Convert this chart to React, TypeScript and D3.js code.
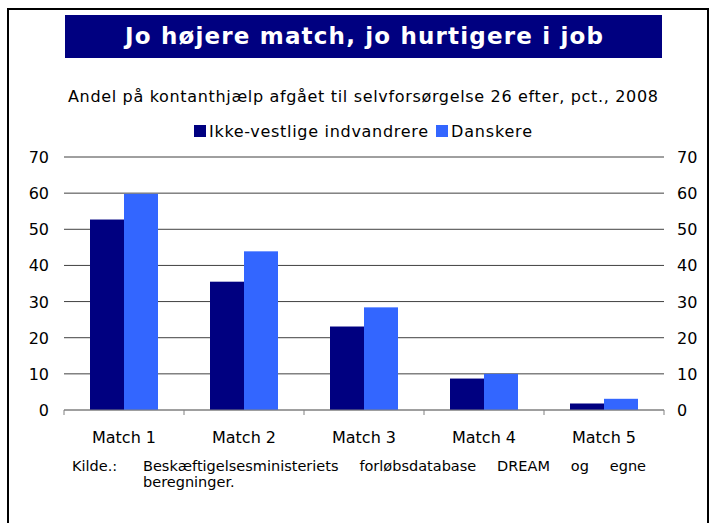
import React, { useLayoutEffect, useRef, useState } from "react";
import * as d3 from "d3";

const categories = ["Match 1", "Match 2", "Match 3", "Match 4", "Match 5"];
const seriesNames = ["Ikke-vestlige indvandrere", "Danskere"];
const ikkeVestlige = [52.7, 35.5, 23.1, 8.7, 1.8];
const danskere = [59.8, 43.9, 28.4, 10.0, 3.1];
const yTicks = [0, 10, 20, 30, 40, 50, 60, 70];
const colors = ["#000080", "#3366FF"];
const sourceLine1 = "Beskæftigelsesministeriets forløbsdatabase DREAM og egne";
const sourceLine2 = "beregninger.";

const W = 714;
const H = 523;
const font = "'DejaVu Sans', Verdana, sans-serif";

function Justified({ text, x0, x1, y, size }: { text: string; x0: number; x1: number; y: number; size: number }) {
  const words = text.split(" ");
  const refs = useRef<(SVGTextElement | null)[]>([]);
  const [xs, setXs] = useState<number[] | null>(null);
  useLayoutEffect(() => {
    const widths = refs.current.map((el) => (el ? el.getComputedTextLength() : 0));
    const total = d3.sum(widths);
    const gap = (x1 - x0 - total) / Math.max(1, words.length - 1);
    const pos: number[] = [];
    let cx = x0;
    widths.forEach((w) => {
      pos.push(cx);
      cx += w + gap;
    });
    setXs(pos);
  }, [text, x0, x1]);
  return (
    <g>
      {words.map((w, i) => (
        <text
          key={i}
          ref={(el) => { refs.current[i] = el; }}
          x={xs ? xs[i] : x0}
          y={y}
          fontFamily={font}
          fontSize={size}
          fill="#000"
          opacity={xs ? 1 : 0}
        >
          {w}
        </text>
      ))}
    </g>
  );
}

export default function App() {
  const left = 64, right = 664, top = 157, bottom = 410;
  const x = d3.scaleBand<string>().domain(categories).range([left, right]).paddingInner(0).paddingOuter(0);
  const inner = d3.scaleBand<string>().domain(seriesNames).range([0, 68]);
  const y = d3.scaleLinear().domain([0, 70]).range([bottom, top]);
  const series = [ikkeVestlige, danskere];
  const ticksX = [...categories.map((c) => x(c)!), right];

  return (
    <div style={{ position: "absolute", left: 0, top: 0 }}>
      <svg width={W} height={H} style={{ display: "block" }}>
        <rect x={0} y={0} width={W} height={H} fill="#fff" />
        <rect x={8} y={9} width={700} height={530} fill="none" stroke="#000" strokeWidth={2} />
        <rect x={65} y={15} width={597} height={43} fill="#000080" />
        <text x={125} y={44} fill="#fff" fontFamily={font} fontWeight="bold" fontSize={23}
          textLength={478} lengthAdjust="spacing">
          Jo højere match, jo hurtigere i job
        </text>
        <text x={68} y={102} fill="#000" fontFamily={font} fontSize={16}
          textLength={590} lengthAdjust="spacing">
          Andel på kontanthjælp afgået til selvforsørgelse 26 efter, pct., 2008
        </text>
        {/* legend */}
        <rect x={194} y={125} width={12} height={12} fill={colors[0]} />
        <text x={209} y={137} fontFamily={font} fontSize={16} fill="#000"
          textLength={219} lengthAdjust="spacing">{seriesNames[0]}</text>
        <rect x={436} y={125} width={12} height={12} fill={colors[1]} />
        <text x={451} y={137} fontFamily={font} fontSize={16} fill="#000"
          textLength={81} lengthAdjust="spacing">{seriesNames[1]}</text>

        {/* gridlines */}
        {yTicks.map((t) => (
          <g key={t}>
            <line x1={left} x2={right} y1={y(t)} y2={y(t)} stroke={t === 0 ? "#808080" : "#404040"} strokeWidth={1} />
            <text x={49} y={y(t) + 6} textAnchor="end" fontFamily={font} fontSize={16} fill="#000">{t}</text>
            <text x={677} y={y(t) + 6} textAnchor="start" fontFamily={font} fontSize={16} fill="#000">{t}</text>
          </g>
        ))}
        {/* bars */}
        {categories.map((c, i) => (
          <g key={c}>
            {series.map((s, j) => {
              const bx = x(c)! + (x.bandwidth() - 68) / 2 + inner(seriesNames[j])!;
              return (
                <rect key={j} x={bx} y={y(s[i])} width={inner.bandwidth()} height={y(0) - y(s[i])} fill={colors[j]} />
              );
            })}
            <text x={x(c)! + x.bandwidth() / 2} y={443} textAnchor="middle" fontFamily={font} fontSize={16} fill="#000">{c}</text>
          </g>
        ))}
        <line x1={left} x2={right} y1={bottom} y2={bottom} stroke="#808080" strokeWidth={1} />
        {ticksX.map((tx, i) => (
          <line key={i} x1={tx} x2={tx} y1={bottom} y2={bottom + 5} stroke="#808080" strokeWidth={1} />
        ))}
        {/* source */}
        <text x={72} y={471} fontFamily={font} fontSize={14.5} fill="#000">Kilde.:</text>
        <Justified text={sourceLine1} x0={143} x1={646} y={471} size={14.5} />
        <text x={143} y={487} fontFamily={font} fontSize={14.5} fill="#000">{sourceLine2}</text>
      </svg>
    </div>
  );
}
